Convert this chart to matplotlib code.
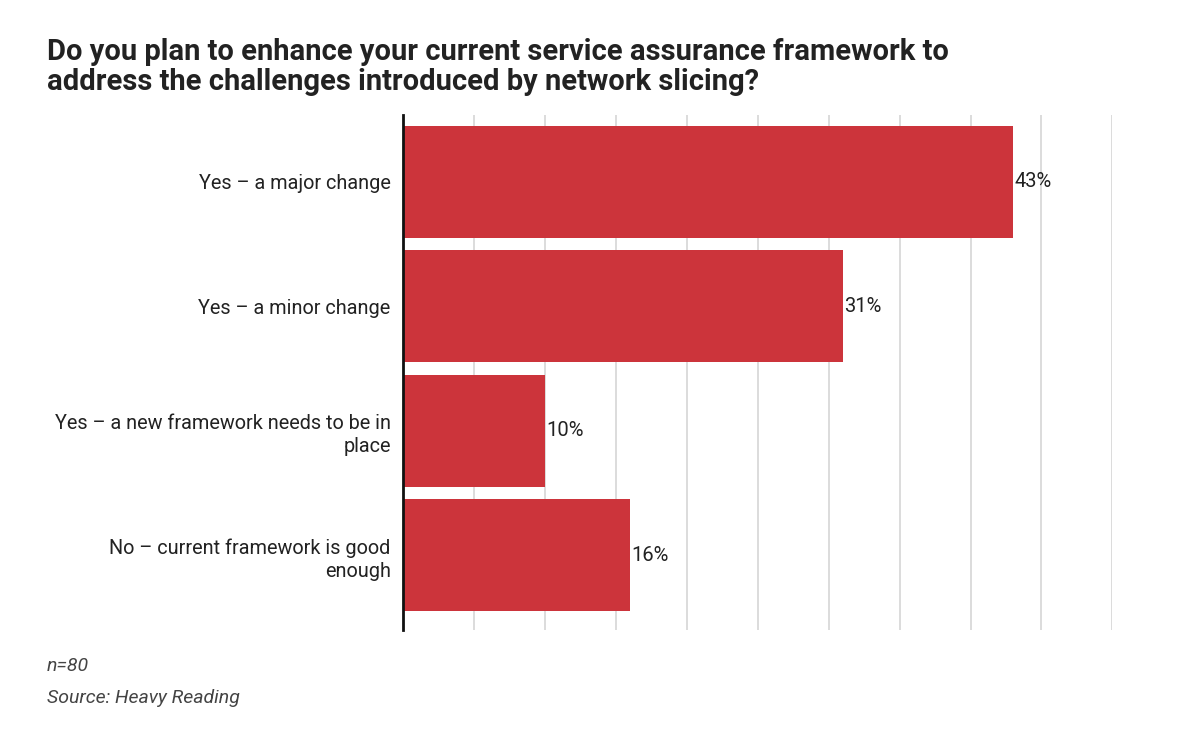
import matplotlib.pyplot as plt

plt.rcParams['font.family'] = ['Roboto', 'DejaVu Sans']

categories = ["Yes – a major change", "Yes – a minor change",
              "Yes – a new framework needs to be in\nplace",
              "No – current framework is good\nenough"]
values = [43, 31, 10, 16]
value_labels = ["43%", "31%", "10%", "16%"]

fig = plt.figure(figsize=(12, 7.5), dpi=100)
ax = fig.add_axes([0.336, 0.16, 0.591, 0.687])

ypos = list(range(len(categories)))
ax.barh(ypos, values, height=0.9, color="#CC343B", zorder=3)
for y, v, lab in zip(ypos, values, value_labels):
    ax.text(v + 0.1, y, lab, va="center", ha="left", fontsize=14.5, color="#222222", zorder=4)

ax.set_xlim(0, 50)
ax.set_ylim(3.6, -0.54)
ax.set_xticks(range(5, 55, 5))
ax.set_xticklabels([])
ax.tick_params(axis="x", length=0)
ax.grid(axis="x", color="#D6D6D6", linewidth=1.2, zorder=0)
ax.set_yticks(ypos)
ax.set_yticklabels(categories, fontsize=14.3, color="#222222", ha="right", linespacing=1.3)
ax.tick_params(axis="y", length=0, pad=9)
for s in ["top", "right", "bottom"]:
    ax.spines[s].set_visible(False)
ax.spines["left"].set_linewidth(2)
ax.spines["left"].set_color("#111111")
ax.spines["left"].set_zorder(5)

fig.text(0.039, 0.95, "Do you plan to enhance your current service assurance framework to\naddress the challenges introduced by network slicing?",
         fontsize=21, fontweight="bold", color="#222222", va="top", ha="left", linespacing=1.12)
fig.text(0.039, 0.112, "n=80", fontsize=14, style="italic", color="#444444", va="center")
fig.text(0.039, 0.069, "Source: Heavy Reading", fontsize=14, style="italic", color="#444444", va="center")

fig.savefig("out.png", dpi=100)
